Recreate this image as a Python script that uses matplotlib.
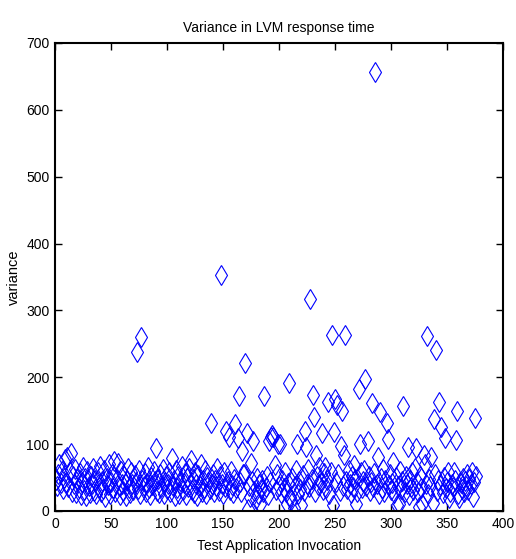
import matplotlib
matplotlib.use('Agg')
import matplotlib.pyplot as plt

plt.rcParams['font.family'] = ['Liberation Sans', 'DejaVu Sans']

# variance per test application invocation
variance = [
    46, 38, 55, 71, 42, 60, 33, 50, 78, 44, 81, 36, 58, 86, 29, 52, 40, 63, 27, 48,
    35, 57, 24, 44, 66, 31, 49, 22, 60, 38, 27, 53, 41, 64, 30, 46, 25, 58, 36, 68,
    28, 45, 33, 62, 21, 50, 39, 70, 26, 43, 55, 34, 75, 29, 48, 72, 37, 24, 60, 41,
    30, 52, 23, 46, 65, 35, 27, 58, 40, 31, 54, 44, 238, 33, 62, 26, 260, 47, 38, 57,
    29, 42, 66, 35, 24, 51, 39, 60, 45, 94, 30, 48, 27, 56, 36, 63, 25, 44, 52, 33,
    40, 58, 28, 79, 37, 47, 22, 61, 34, 53, 26, 45, 68, 31, 42, 57, 24, 50, 36, 64,
    76, 32, 48, 27, 59, 41, 23, 54, 38, 70, 29, 46, 35, 62, 25, 51, 43, 33, 131, 40,
    56, 28, 47, 37, 65, 30, 52, 353, 41, 26, 58, 36, 119, 45, 111, 32, 60, 39, 27, 48,
    130, 35, 109, 172, 44, 29, 90, 55, 56, 221, 116, 3, 38, 21, 72, 45, 104, 30, 18, 50,
    25, 40, 11, 33, 47, 28, 172, 36, 52, 24, 104, 43, 111, 113, 111, 69, 31, 55, 100, 38,
    100, 27, 46, 35, 58, 29, 11, 42, 192, 21, 16, 50, 4, 37, 61, 100, 26, 45, 33, 9,
    54, 30, 119, 95, 41, 63, 36, 317, 48, 174, 140, 28, 84, 52, 39, 66, 44, 116, 31, 57,
    66, 35, 47, 163, 26, 59, 263, 9, 118, 167, 43, 159, 56, 30, 97, 149, 38, 84, 263, 45,
    33, 61, 40, 27, 53, 36, 69, 48, 11, 29, 183, 100, 58, 34, 45, 62, 197, 38, 105, 52,
    30, 44, 161, 36, 57, 657, 41, 81, 26, 148, 49, 35, 63, 28, 46, 131, 107, 39, 55, 32,
    42, 74, 27, 51, 9, 38, 11, 60, 33, 45, 157, 29, 53, 40, 96, 24, 47, 36, 58, 31,
    64, 94, 43, 28, 6, 52, 35, 11, 84, 71, 41, 261, 25, 48, 37, 81, 12, 137, 55, 241,
    30, 46, 163, 39, 125, 27, 51, 109, 34, 44, 58, 19, 29, 40, 36, 59, 47, 106, 149, 25,
    19, 42, 33, 50, 28, 45, 37, 55, 31, 48, 40, 59, 21, 44, 139, 52,
]
invocation = list(range(1, len(variance) + 1))

fig = plt.figure(figsize=(5.16, 5.59), dpi=100)
ax = fig.add_axes([0.1066, 0.0859, 0.8684, 0.8372])

ax.plot(invocation, variance, linestyle='none', marker='d', markersize=10,
        markerfacecolor='none', markeredgecolor='#0000ff', markeredgewidth=0.8)

ax.set_xlim(0, 400)
ax.set_ylim(0, 700)
ax.set_xticks(range(0, 401, 50))
ax.set_yticks(range(0, 701, 100))
ax.tick_params(direction='in', top=True, right=True, length=5, width=1,
               labelsize=10, pad=4)
for s in ax.spines.values():
    s.set_linewidth(1.5)

ax.set_title('Variance in LVM response time', fontsize=10, pad=8)
ax.set_xlabel('Test Application Invocation', fontsize=10, labelpad=6)
ax.set_ylabel('variance', fontsize=10.5, labelpad=4)

plt.savefig('out.png', dpi=100)
